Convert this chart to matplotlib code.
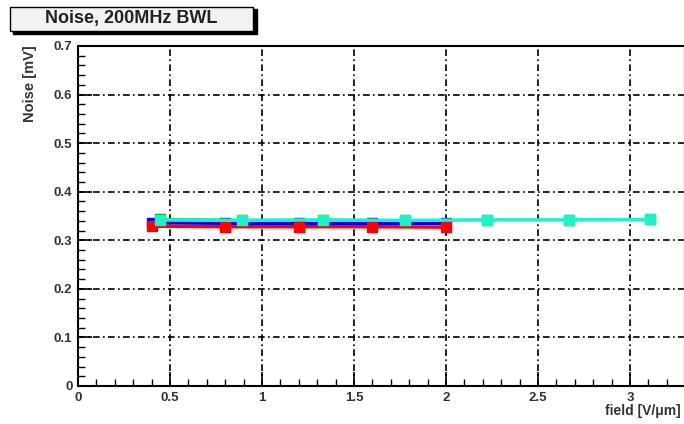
import numpy as np
import matplotlib.pyplot as plt
from matplotlib.patches import Rectangle
from matplotlib.ticker import MultipleLocator

# field [V/um] and noise [mV] per series
x_a = [0.4, 0.8, 1.2, 1.6, 2.0]
y_red = [0.329, 0.328, 0.328, 0.328, 0.327]
y_blue = [0.336, 0.335, 0.335, 0.335, 0.335]

x_b = [0.444, 0.889, 1.333, 1.778, 2.222, 2.667, 3.111]
y_green = [0.344, 0.342, 0.342, 0.341, 0.342, 0.342, 0.343]
y_cyan = [0.342, 0.341, 0.342, 0.341, 0.342, 0.342, 0.343]

plt.rcParams['font.family'] = ['Liberation Sans', 'DejaVu Sans']

fig = plt.figure(figsize=(6.84, 4.24), dpi=100)
ax = fig.add_axes([78 / 684, 38 / 424, 606 / 684, 340 / 424])

ax.plot(x_a, y_blue, color='#0000ff', lw=2.5, marker='s', ms=7, mec='#0000ff', zorder=3)
ax.plot(x_a, y_red, color='#ff0000', lw=2.5, marker='s', ms=7, mec='#ff0000', zorder=4)
ax.plot(x_b, y_green, color='#00b000', lw=1.5, marker='s', ms=7, mec='#00b000', zorder=5)
ax.plot(x_b, y_cyan, color='#1ef2c8', lw=2.5, marker='s', ms=7, mec='#1ef2c8', zorder=6)

ax.set_xlim(0, 606 / 184)
ax.set_ylim(0, 0.7)
ax.xaxis.set_major_locator(MultipleLocator(0.5))
ax.xaxis.set_minor_locator(MultipleLocator(0.1))
ax.yaxis.set_major_locator(MultipleLocator(0.1))
ax.yaxis.set_minor_locator(MultipleLocator(0.02))
ax.set_xticks([0, 0.5, 1, 1.5, 2, 2.5, 3])
ax.set_xticklabels(['0', '0.5', '1', '1.5', '2', '2.5', '3'])
ax.set_yticks([0, 0.1, 0.2, 0.3, 0.4, 0.5, 0.6, 0.7])
ax.set_yticklabels(['0', '0.1', '0.2', '0.3', '0.4', '0.5', '0.6', '0.7'])
ax.tick_params(which='major', direction='in', length=10, width=1.2,
               labelsize=9.5, pad=4, top=False, right=False)
ax.tick_params(which='minor', direction='in', length=5, width=1, top=False, right=False)
for lab in ax.get_xticklabels() + ax.get_yticklabels():
    lab.set_fontweight('bold')
    lab.set_color('#333333')

ax.grid(True, which='major', color='black', linestyle=(0, (4, 2, 1, 2)), lw=1.2)
ax.set_axisbelow(True)
for s in ['left', 'bottom', 'top']:
    ax.spines[s].set_linewidth(1.5)
ax.spines['right'].set_color('#e07070')
ax.spines['right'].set_linewidth(1)

fig.text(0.995, 13 / 424, 'field [V/\u03bcm]', ha='right', va='center',
         fontsize=10, fontweight='bold', color='#333333')
fig.text(30 / 684, 1 - 45 / 424, 'Noise [mV]', rotation=90, ha='center', va='top',
         fontsize=10.5, fontweight='bold', color='#333333')

# title box with shadow
fig.patches.append(Rectangle((13 / 684, 1 - 34 / 424), 244 / 684, 25 / 424,
                             transform=fig.transFigure, facecolor='black',
                             edgecolor='black', zorder=1))
fig.patches.append(Rectangle((10 / 684, 1 - 31 / 424), 243 / 684, 24 / 424,
                             transform=fig.transFigure, facecolor='#f2f2f2',
                             edgecolor='black', lw=1, zorder=2))
fig.text(131 / 684, 1 - 19 / 424, 'Noise, 200MHz BWL', ha='center', va='center',
         fontsize=13, fontweight='bold', color='#222222', zorder=3)

fig.savefig('out.png', dpi=100)
